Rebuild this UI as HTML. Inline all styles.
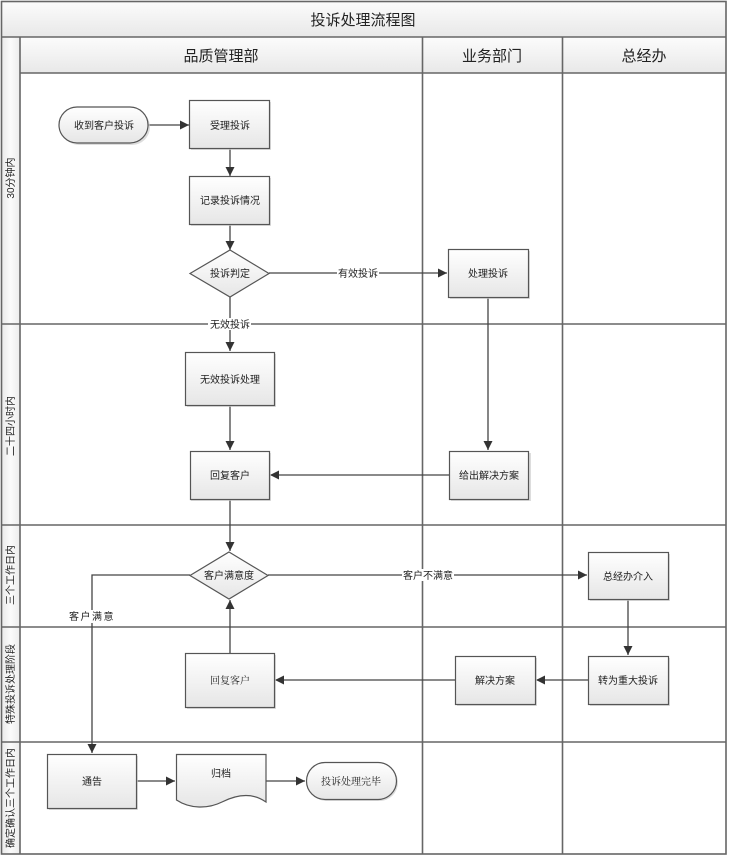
<!DOCTYPE html>
<html><head><meta charset="utf-8"><style>
html,body{margin:0;padding:0;background:#fff;}
svg{display:block;}
text{font-family:"Liberation Sans","Noto Sans CJK SC",sans-serif;fill:#222;}
</style></head><body>
<svg width="730" height="859" viewBox="0 0 730 859" xmlns="http://www.w3.org/2000/svg">
<defs>
<linearGradient id="hg" x1="0" y1="0" x2="0" y2="1"><stop offset="0" stop-color="#fcfcfc"/><stop offset="1" stop-color="#e8e8e8"/></linearGradient>
<linearGradient id="vg" x1="0" y1="0" x2="1" y2="0"><stop offset="0" stop-color="#e8e8e8"/><stop offset="0.5" stop-color="#fbfbfb"/><stop offset="1" stop-color="#ececec"/></linearGradient>
<linearGradient id="bg" x1="0" y1="0" x2="0" y2="1"><stop offset="0" stop-color="#ffffff"/><stop offset="1" stop-color="#e6e6e6"/></linearGradient>
<marker id="ar" markerWidth="10" markerHeight="10" refX="9" refY="5" orient="auto" markerUnits="userSpaceOnUse"><path d="M0,0.5 L9,5 L0,9.5 Z" fill="#333"/></marker>
</defs>

<!-- title & headers -->
<rect x="1" y="1" width="725" height="36" fill="url(#hg)"/>
<rect x="20" y="37" width="706" height="36" fill="url(#hg)"/>
<rect x="1" y="37" width="19" height="817" fill="url(#vg)"/>
<text x="363" y="25" font-size="15" text-anchor="middle">投诉处理流程图</text>
<text x="221" y="61" font-size="15" text-anchor="middle">品质管理部</text>
<text x="492" y="61" font-size="15" text-anchor="middle">业务部门</text>
<text x="644" y="61" font-size="15" text-anchor="middle">总经办</text>

<!-- grid lines -->
<g stroke="#666" stroke-width="1.6" fill="none">
<rect x="1.5" y="1.5" width="724.5" height="852.5"/>
<line x1="1" y1="37" x2="726" y2="37"/>
<line x1="20" y1="73" x2="726" y2="73"/>
<line x1="20" y1="37" x2="20" y2="854"/>
<line x1="422.5" y1="37" x2="422.5" y2="854"/>
<line x1="562.5" y1="37" x2="562.5" y2="854"/>
<line x1="1" y1="324" x2="726" y2="324"/>
<line x1="1" y1="525" x2="726" y2="525"/>
<line x1="1" y1="627" x2="726" y2="627"/>
<line x1="1" y1="742" x2="726" y2="742"/>
</g>

<!-- side labels -->
<g font-size="10" text-anchor="middle">
<text transform="translate(14,178) rotate(-90)">30分钟内</text>
<text transform="translate(14,426) rotate(-90)">二十四小时内</text>
<text transform="translate(14,575) rotate(-90)">三个工作日内</text>
<text transform="translate(14,684) rotate(-90)">特殊投诉处理阶段</text>
<text transform="translate(14,798) rotate(-90)">确定确认三个工作日内</text>
</g>

<!-- connectors -->
<g stroke="#444" stroke-width="1.3" fill="none">
<line x1="148" y1="125" x2="189" y2="125" marker-end="url(#ar)"/>
<line x1="230" y1="149" x2="230" y2="176" marker-end="url(#ar)"/>
<line x1="230" y1="224" x2="230" y2="250" marker-end="url(#ar)"/>
<line x1="269" y1="273" x2="447" y2="273" marker-end="url(#ar)"/>
<line x1="230" y1="297" x2="230" y2="351" marker-end="url(#ar)"/>
<line x1="230" y1="405" x2="230" y2="450" marker-end="url(#ar)"/>
<line x1="488" y1="297" x2="488" y2="450" marker-end="url(#ar)"/>
<line x1="449" y1="475" x2="270" y2="475" marker-end="url(#ar)"/>
<line x1="230" y1="499" x2="230" y2="551" marker-end="url(#ar)"/>
<line x1="268" y1="575" x2="587" y2="575" marker-end="url(#ar)"/>
<line x1="628" y1="599" x2="628" y2="655" marker-end="url(#ar)"/>
<line x1="588" y1="680" x2="536" y2="680" marker-end="url(#ar)"/>
<line x1="455" y1="680" x2="275" y2="680" marker-end="url(#ar)"/>
<line x1="230" y1="653" x2="230" y2="600" marker-end="url(#ar)"/>
<polyline points="190,575 92,575 92,753" marker-end="url(#ar)"/>
<line x1="136" y1="781" x2="175" y2="781" marker-end="url(#ar)"/>
<line x1="266" y1="781" x2="305" y2="781" marker-end="url(#ar)"/>
</g>

<!-- edge labels -->
<g font-size="10" text-anchor="middle">
<rect x="337" y="267" width="42" height="12" fill="#fff"/>
<text x="358" y="277">有效投诉</text>
<rect x="208" y="318" width="43" height="12" fill="#fff"/>
<text x="230" y="328">无效投诉</text>
<rect x="402" y="569" width="52" height="12" fill="#fff"/>
<text x="428" y="579">客户不满意</text>
<rect x="70" y="610" width="44" height="13" fill="#fff"/>
<text x="92" y="620" letter-spacing="1.5">客户满意</text>
</g>

<!-- shapes -->
<g stroke="#555" stroke-width="1.2">
<g fill="#cfcfcf" stroke="none" opacity="0.7">
<rect x="191" y="102" width="80" height="48"/>
<rect x="191" y="178" width="80" height="48"/>
<rect x="450" y="251" width="80" height="48"/>
<rect x="187" y="354" width="89" height="53"/>
<rect x="191" y="453" width="80" height="48"/>
<rect x="451" y="453" width="80" height="48"/>
<rect x="590" y="554" width="80" height="47"/>
<rect x="590" y="658" width="80" height="48"/>
<rect x="457" y="658" width="80" height="48"/>
<rect x="187" y="655" width="89" height="54"/>
<rect x="49" y="756" width="89" height="54"/>
<rect x="61" y="109" width="89" height="36" rx="18"/>
<rect x="308" y="764" width="90" height="37" rx="18.5"/>
</g>
<rect x="59" y="107" width="89" height="36" rx="18" fill="url(#bg)"/>
<rect x="189.5" y="100.5" width="80" height="48" fill="url(#bg)"/>
<rect x="189.5" y="176.5" width="80" height="48" fill="url(#bg)"/>
<polygon points="230,250 269,273.5 230,297 190,273.5" fill="url(#bg)"/>
<rect x="448.5" y="249.5" width="80" height="48" fill="url(#bg)"/>
<rect x="185.5" y="352.5" width="89" height="53" fill="url(#bg)"/>
<rect x="190.5" y="451.5" width="79" height="48" fill="url(#bg)"/>
<rect x="449.5" y="451.5" width="79" height="48" fill="url(#bg)"/>
<polygon points="229,552 268,575.5 229,599 190,575.5" fill="url(#bg)"/>
<rect x="588.5" y="552.5" width="80" height="47" fill="url(#bg)"/>
<rect x="588.5" y="656.5" width="80" height="48" fill="url(#bg)"/>
<rect x="455.5" y="656.5" width="80" height="48" fill="url(#bg)"/>
<rect x="185.5" y="653.5" width="89" height="54" fill="url(#bg)"/>
<rect x="47.5" y="754.5" width="89" height="54" fill="url(#bg)"/>
<path d="M176.5,754.5 H266 V802 C252,792 236,795 222,802 C208,809 190,809 176.5,800 Z" fill="url(#bg)"/>
<rect x="306.5" y="762.5" width="90" height="37" rx="18.5" fill="url(#bg)"/>
</g>

<!-- node labels -->
<g font-size="10" text-anchor="middle">
<text x="104" y="129">收到客户投诉</text>
<text x="230" y="129">受理投诉</text>
<text x="230" y="204">记录投诉情况</text>
<text x="230" y="277">投诉判定</text>
<text x="488" y="277">处理投诉</text>
<text x="230" y="383">无效投诉处理</text>
<text x="230" y="479">回复客户</text>
<text x="489" y="479">给出解决方案</text>
<text x="229" y="579">客户满意度</text>
<text x="628" y="580">总经办介入</text>
<text x="628" y="684">转为重大投诉</text>
<text x="495" y="684">解决方案</text>
<text x="230" y="684" style="font-family:'Liberation Serif','Noto Serif CJK SC',serif">回复客户</text>
<text x="92" y="785">通告</text>
<text x="221" y="777">归档</text>
<text x="351" y="785" style="font-family:'Liberation Serif','Noto Serif CJK SC',serif" fill="#444">投诉处理完毕</text>
</g>
</svg>
</body></html>
